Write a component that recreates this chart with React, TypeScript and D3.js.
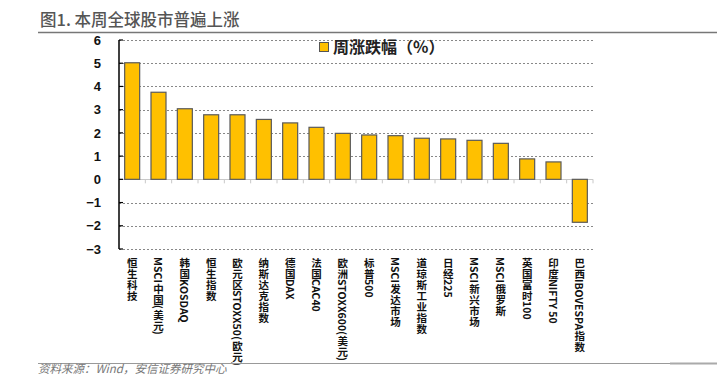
import React from "react";
import * as d3 from "d3";

const categories = [
  "恒生科技", "MSCI中国(美元)", "韩国KOSDAQ", "恒生指数", "欧元区STOXX50(欧元)", "纳斯达克指数",
  "德国DAX", "法国CAC40", "欧洲STOXX600(美元)", "标普500", "MSCI发达市场", "道琼斯工业指数",
  "日经225", "MSCI新兴市场", "MSCI俄罗斯", "英国富时100", "印度NIFTY 50", "巴西IBOVESPA指数",
];
const values = [5.02, 3.75, 3.04, 2.78, 2.78, 2.58, 2.43, 2.24, 1.98, 1.91, 1.88, 1.77, 1.74, 1.68, 1.55, 0.88, 0.75, -1.85];
const yTicks = [6, 5, 4, 3, 2, 1, 0, -1, -2, -3];
const seriesName = "周涨跌幅（%）";
const title = "图1. 本周全球股市普遍上涨";
const source = "资料来源：Wind，安信证券研究中心";

const FONT = "'Noto Sans CJK SC', 'Noto Sans', sans-serif";
const LFS = 10.5;
const ADV = 11;

let ctx: CanvasRenderingContext2D | null = null;
function measure(s: string): number {
  if (!ctx) {
    const c = document.createElement("canvas");
    ctx = c.getContext("2d");
  }
  if (!ctx) return s.length * LFS * 0.6;
  ctx.font = `bold ${LFS}px 'Noto Sans CJK SC'`;
  return ctx.measureText(s).width;
}

function VLabel({ cx, y0, text }: { cx: number; y0: number; text: string }) {
  const runs: { s: string; cjk: boolean }[] = [];
  for (const ch of text) {
    const cjk = ch.charCodeAt(0) > 0x2e80;
    const last = runs[runs.length - 1];
    if (!cjk && last && !last.cjk) last.s += ch;
    else runs.push({ s: ch, cjk });
  }
  let yy = y0;
  const els: React.ReactNode[] = [];
  runs.forEach((r, i) => {
    if (r.cjk) {
      els.push(
        <text key={i} x={cx} y={yy + ADV / 2} textAnchor="middle" dominantBaseline="central"
          fontSize={LFS} fontWeight={700} fill="#111">{r.s}</text>
      );
      yy += ADV;
    } else {
      const w = measure(r.s);
      els.push(
        <text key={i} transform={`translate(${cx},${yy}) rotate(90)`} dominantBaseline="central"
          fontSize={LFS} fontWeight={700} fill="#111">{r.s}</text>
      );
      yy += w;
    }
  });
  return <g>{els}</g>;
}

export default function App() {
  const W = 728, H = 376;
  const left = 119, right = 593, top = 40, bottom = 249;
  const x = d3.scaleBand<string>().domain(categories).range([left, right]).paddingInner(0.43).paddingOuter(0.215);
  const xb = d3.scaleBand<string>().domain(categories).range([left, right]);
  const y = d3.scaleLinear().domain([-3, 6]).range([bottom, top]);
  return (
    <svg width={W} height={H} style={{ position: "absolute", left: 0, top: 0, background: "#fff" }} fontFamily={FONT}>
      <text x={40} y={26} fontSize={16.5} fill="#555" fontWeight={500}>{title}</text>
      <line x1={38} x2={717} y1={32.5} y2={32.5} stroke="#777" strokeWidth={1.5} />
      {yTicks.filter((t) => t !== 0).map((t) => (
        <line key={t} x1={left} x2={right} y1={Math.round(y(t)) + 0.5} y2={Math.round(y(t)) + 0.5}
          stroke="#888" strokeDasharray="2,2" strokeWidth={1} />
      ))}
      <line x1={left} x2={right} y1={Math.round(y(0)) + 0.5} y2={Math.round(y(0)) + 0.5} stroke="#c8c8c8" strokeWidth={1} />
      {categories.map((c, i) => (
        <line key={"t" + i} x1={(xb(c) as number) + xb.bandwidth()} x2={(xb(c) as number) + xb.bandwidth()}
          y1={y(0)} y2={y(0) + 4} stroke="#c8c8c8" strokeWidth={1} />
      ))}
      {categories.map((c, i) => {
        const v = values[i];
        const y0 = y(Math.max(0, v));
        const h = Math.abs(y(v) - y(0));
        return (
          <rect key={c} x={x(c)} y={y0} width={x.bandwidth()} height={h}
            fill="#FFC000" stroke="#5a5a5a" strokeWidth={1.2} />
        );
      })}
      <line x1={left} x2={left} y1={top} y2={bottom} stroke="#000" strokeWidth={1.5} />
      {yTicks.map((t) => (
        <g key={"y" + t}>
          <line x1={left} x2={left + 4} y1={y(t)} y2={y(t)} stroke="#000" strokeWidth={1.2} />
          <text x={101} y={y(t)} dy="0.36em" textAnchor="end" fontSize={13} fontWeight={700} fill="#111"
            fontFamily="'Liberation Sans', Arial, sans-serif">{t < 0 ? "\u2212" + Math.abs(t) : t}</text>
        </g>
      ))}
      {categories.map((c) => (
        <VLabel key={"l" + c} cx={(x(c) as number) + x.bandwidth() / 2} y0={257} text={c} />
      ))}
      <rect x={319.5} y={42.5} width={9} height={9} fill="#FFC000" stroke="#555" strokeWidth={1} />
      <text x={333} y={47} dy="0.36em" fontSize={16} fontWeight={600} fill="#222">{seriesName}</text>
      <line x1={38} x2={670} y1={363.5} y2={363.5} stroke="#999" strokeWidth={1.2} />
      <line x1={670} x2={717} y1={363.5} y2={363.5} stroke="#aaa" strokeWidth={2} />
      <text x={38} y={373} fontSize={11.5} fontStyle="italic" fill="#777">{source}</text>
    </svg>
  );
}
